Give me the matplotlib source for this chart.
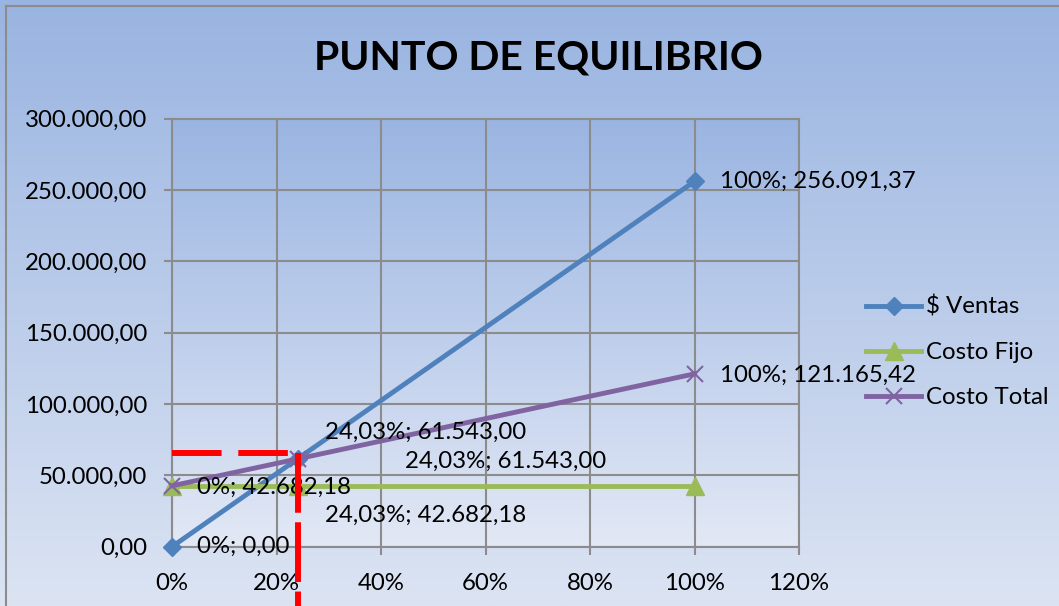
import numpy as np
import matplotlib
matplotlib.use("Agg")
import matplotlib.pyplot as plt
from matplotlib.ticker import FuncFormatter, MultipleLocator

plt.rcParams['font.family'] = ['Lato', 'DejaVu Sans']

# ---- data ----
x_vals = [0.0, 0.2403, 1.0]
ventas = [0.0, 61543.00, 256091.37]
costo_fijo = [42682.18, 42682.18, 42682.18]
costo_total = [42682.18, 61543.00, 121165.42]
series_names = ["$ Ventas", "Costo Fijo", "Costo Total"]
break_x = 0.2403
break_y_marker = 65500
title = "PUNTO DE EQUILIBRIO"

# data labels: (x, y, text, dx_px, dy_px)
labels = [
    (0.0, 0.0, "0%; 0,00", 25, 0),
    (0.0, 42682.18, "0%; 42.682,18", 25, -2),
    (0.2403, 61543.00, "24,03%; 61.543,00", 27, 27),
    (0.2403, 61543.00, "24,03%; 61.543,00", 107, -2),
    (0.2403, 42682.18, "24,03%; 42.682,18", 27, -30),
    (1.0, 256091.37, "100%; 256.091,37", 26, 0),
    (1.0, 121165.42, "100%; 121.165,42", 26, -2),
]

W, H = 1059, 606
FS = 17.3
fig = plt.figure(figsize=(W / 100, H / 100), dpi=100)

def hexrgb(h):
    h = h.lstrip('#')
    return np.array([int(h[i:i + 2], 16) / 255 for i in (0, 2, 4)])

def vgrad(top, bot, n=256):
    t = np.linspace(0, 1, n)[:, None]
    c = (1 - t) * hexrgb(top) + t * hexrgb(bot)
    return c[:, None, :]

# figure background gradient
bg = fig.add_axes([0, 0, 1, 1], zorder=-10)
bg.imshow(vgrad('#99B4E1', '#DCE4F3'), extent=[0, 1, 0, 1], aspect='auto', origin='upper')
bg.set_xlim(0, 1); bg.set_ylim(0, 1)
bg.axis('off')
# border lines (left and top)
bg.plot([6 / W, 6 / W], [0, 1 - 6 / H], color='#8C8C8C', lw=1.5)
bg.plot([6 / W, 1], [1 - 6 / H, 1 - 6 / H], color='#8C8C8C', lw=1.5)

left, right = 172 / W, 799 / W
top, bottom = 1 - 118.7 / H, 1 - 546.7 / H
ax = fig.add_axes([left, bottom, right - left, top - bottom])
ax.set_facecolor('none')
ax.set_xlim(0, 1.2)
ax.set_ylim(0, 300000)
ax.imshow(vgrad('#9AB5E2', '#E2E8F5'), extent=[0, 1.2, 0, 300000], aspect='auto',
          origin='upper', zorder=0)

grid_c = '#8C8C8C'
ax.xaxis.set_major_locator(MultipleLocator(0.2))
ax.yaxis.set_major_locator(MultipleLocator(50000))
ax.grid(True, color=grid_c, lw=1.5, zorder=1)
for s in ax.spines.values():
    s.set_color(grid_c)
    s.set_linewidth(1.5)
ax.tick_params(axis='both', length=6, width=1.5, color=grid_c, labelsize=FS)
ax.tick_params(axis='y', pad=12)
ax.tick_params(axis='x', pad=13)

def yfmt(v, pos):
    s = f"{v:,.2f}"
    return s.replace(',', 'X').replace('.', ',').replace('X', '.')

ax.yaxis.set_major_formatter(FuncFormatter(yfmt))
ax.xaxis.set_major_formatter(FuncFormatter(lambda v, p: f"{v * 100:.0f}%"))

colors = ['#4F81BD', '#9BBB59', '#8064A2']
LW = 3.5
ax.plot(x_vals, ventas, color=colors[0], lw=LW, marker='D', ms=9.5, zorder=3,
        label=series_names[0], clip_on=False)
ax.plot(x_vals, costo_fijo, color=colors[1], lw=LW, marker='^', ms=12.5, zorder=3,
        label=series_names[1], clip_on=False)
ax.plot(x_vals, costo_total, color=colors[2], lw=LW, marker='x', ms=11, mew=1.5, zorder=4,
        label=series_names[2], clip_on=False)

for (xv, yv, txt, dx, dy) in labels:
    ax.annotate(txt, (xv, yv), xytext=(dx * 0.72, dy * 0.72), textcoords='offset points',
                ha='left', va='center', fontsize=FS, color='black', zorder=6)

# red dashed break-even guides
bottom_val = -(606 - 546.7) / 428 * 300000
ax.plot([0, break_x], [break_y_marker, break_y_marker], color='#FF0000', lw=4.3,
        dashes=(8.3, 2.8), zorder=7, clip_on=False, solid_capstyle='butt')
ax.plot([break_x, break_x], [break_y_marker, bottom_val * 1.2], color='#FF0000', lw=4.3,
        dashes=(10, 1.6), zorder=7, clip_on=False)

fig.text(538 / W, 1 - 58 / H, title, ha='center', va='center', fontsize=29.4,
         fontweight='bold', color='black')

leg = fig.legend(loc='center left', bbox_to_anchor=(866 / W, 1 - 352 / H), frameon=False,
                 fontsize=FS, handlelength=2.3, handletextpad=0.2, labelspacing=1.0,
                 borderpad=0, borderaxespad=0)

fig.savefig('out.png', dpi=100)
